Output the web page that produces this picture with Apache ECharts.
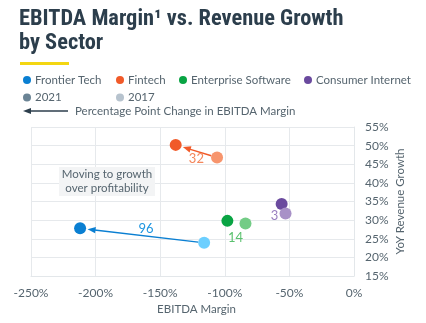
<!DOCTYPE html>
<html>
<head>
<meta charset="utf-8">
<script src="https://cdn.jsdelivr.net/npm/echarts@6/dist/echarts.min.js"></script>
<style>
  html, body { margin: 0; padding: 0; background: #ffffff; }
  #chart { width: 426px; height: 323px; }
</style>
</head>
<body>
<div id="chart"></div>
<script>
// Sector data: EBITDA margin (%) and YoY revenue growth (%) for 2017 and 2021
const sectors = ['Frontier Tech', 'Fintech', 'Enterprise Software', 'Consumer Internet'];
const years = ['2021', '2017'];
const margin2017 = [-116, -106, -84, -53];
const marginChange = [96, 32, 14, 3];          // percentage-point drop in EBITDA margin
const margin2021 = margin2017.map((m, i) => m - marginChange[i]);
const growth2017 = [23.9, 46.8, 29.1, 31.8];
const growth2021 = [27.8, 50.2, 29.8, 34.3];

// Styling
const dark = ['#0a7fd2', '#f15a29', '#09a443', '#6a4a9e'];
const light = ['#6ccfff', '#f7956d', '#73cc86', '#a891c7'];
const labelColors = ['#1d95e0', '#f4875c', '#5bc16f', '#9a80c1'];
const yearColors = ['#6b8495', '#b7c3ce'];
const labelOffsets = [[4, -7], [0, 8], [-1, 16], [-9, 7]];
const textFont = 'Lato, "Noto Sans", sans-serif';
const ink = '#2c3e4c';
const muted = '#56656f';

const chart = echarts.init(document.getElementById('chart'), null, { renderer: 'canvas' });

const scatterSeries = sectors.map((name, i) => ({
  name: name,
  type: 'scatter',
  symbolSize: 12,
  z: 3,
  itemStyle: { color: dark[i], opacity: 1 },
  data: [
    { value: [margin2021[i], growth2021[i]] },
    { value: [margin2017[i], growth2017[i]], itemStyle: { color: light[i] } }
  ]
}));

const yearSeries = years.map((name, i) => ({
  name: name,
  type: 'scatter',
  itemStyle: { color: yearColors[i], opacity: 1 },
  data: []
}));

// Arrows from 2017 to 2021 position, labelled with the margin change
const arrowSeries = {
  type: 'custom',
  z: 2,
  silent: true,
  encode: { x: [0, 2], y: [1, 3] },
  data: sectors.map((s, i) => [margin2017[i], growth2017[i], margin2021[i], growth2021[i], marginChange[i]]),
  renderItem: function (params, api) {
    const i = params.dataIndex;
    const p0 = api.coord([api.value(0), api.value(1)]);
    const p1 = api.coord([api.value(2), api.value(3)]);
    const dx = p1[0] - p0[0], dy = p1[1] - p0[1];
    const len = Math.sqrt(dx * dx + dy * dy);
    const ux = dx / len, uy = dy / len;
    const children = [];
    const startGap = 6, endGap = 7.5, head = 8, half = 3.2;
    if (len > startGap + endGap + head + 4) {
      const sx = p0[0] + ux * startGap, sy = p0[1] + uy * startGap;
      const tx = p1[0] - ux * endGap, ty = p1[1] - uy * endGap;
      const bx = tx - ux * head, by = ty - uy * head;
      children.push({
        type: 'line',
        shape: { x1: sx, y1: sy, x2: bx + ux * 1, y2: by + uy * 1 },
        style: { stroke: dark[i], lineWidth: 1.4 }
      });
      children.push({
        type: 'polygon',
        shape: { points: [[tx, ty], [bx - uy * half, by + ux * half], [bx + uy * half, by - ux * half]] },
        style: { fill: dark[i] }
      });
    }
    const mx = (p0[0] + p1[0]) / 2 + labelOffsets[i][0];
    const my = (p0[1] + p1[1]) / 2 + labelOffsets[i][1];
    children.push({
      type: 'text',
      x: mx, y: my,
      style: {
        text: String(api.value(4)),
        fill: labelColors[i],
        font: '13px ' + textFont,
        align: 'center',
        verticalAlign: 'middle'
      }
    });
    return { type: 'group', children: children };
  }
};

// One legend component per entry so each item sits at its own column
const legendCols = [23, 116, 179, 304];
const legendItem = (name, left, top) => ({
  data: [name],
  left: left,
  top: top,
  icon: 'circle',
  itemWidth: 8,
  itemHeight: 8,
  itemGap: 0,
  selectedMode: false,
  padding: 0,
  textStyle: { fontSize: 11.5, color: muted, fontFamily: textFont, padding: [0, 0, 0, -1] }
});
const legends = sectors.map((s, i) => legendItem(s, legendCols[i], 74))
  .concat(years.map((y, i) => legendItem(y, legendCols[i], 91.5)));

const option = {
  backgroundColor: '#ffffff',
  animation: false,
  title: {
    text: 'EBITDA Margin\u00b9 vs. Revenue Growth\nby Sector',
    left: 19,
    top: 7,
    padding: 0,
    textStyle: {
      fontSize: 22.4,
      fontWeight: 'bold',
      color: ink,
      lineHeight: 24,
      fontFamily: '"Liberation Sans Narrow", "Roboto Condensed", Roboto, sans-serif'
    }
  },
  legend: legends,
  grid: { left: 31, right: 72, top: 127, bottom: 47 },
  xAxis: {
    type: 'value',
    min: -250, max: 0, interval: 50,
    name: 'EBITDA Margin',
    nameLocation: 'middle',
    nameGap: 27,
    nameTextStyle: { fontSize: 11.5, color: muted, fontFamily: textFont, padding: [0, 0, 0, 8] },
    axisLine: { show: true, lineStyle: { color: '#e3e7ea' } },
    axisTick: { show: false },
    axisLabel: { formatter: '{value}%', fontSize: 12, color: muted, fontFamily: textFont, margin: 11 },
    splitLine: { show: true, lineStyle: { color: '#e6e9ec', width: 1 } }
  },
  yAxis: {
    type: 'value',
    position: 'right',
    min: 15, max: 55, interval: 5,
    name: 'YoY Revenue Growth',
    nameLocation: 'middle',
    nameRotate: 90,
    nameGap: 40,
    nameMoveOverlap: false,
    nameTextStyle: { fontSize: 11.5, color: muted, fontFamily: textFont },
    axisLine: { show: true, lineStyle: { color: '#e3e7ea' } },
    axisTick: { show: false },
    axisLabel: { formatter: '{value}%', fontSize: 12, color: muted, fontFamily: textFont, margin: 11 },
    splitLine: { show: true, lineStyle: { color: '#e6e9ec', width: 1 } }
  },
  graphic: [
    // yellow accent under the title
    { type: 'rect', left: 20, top: 62, shape: { width: 49, height: 3 }, style: { fill: '#f3d612' } },
    // legend entry for the change arrow
    { type: 'line', shape: { x1: 30, y1: 111, x2: 68, y2: 111 }, style: { stroke: ink, lineWidth: 1.3 } },
    { type: 'polygon', shape: { points: [[23, 111], [31, 108], [31, 114]] }, style: { fill: ink } },
    { type: 'text', x: 75, y: 111, style: { text: 'Percentage Point Change in EBITDA Margin', fill: muted, font: '11.5px ' + textFont, verticalAlign: 'middle' } },
    // annotation box
    { type: 'rect', shape: { x: 59, y: 167, width: 96, height: 29 }, style: { fill: '#f3f4f5' }, z: 1 },
    { type: 'text', x: 107, y: 181.5, z: 2, style: { text: 'Moving to growth\nover profitability', fill: muted, font: '11.5px ' + textFont, lineHeight: 14.5, align: 'center', verticalAlign: 'middle' } }
  ],
  series: [arrowSeries].concat(scatterSeries, yearSeries)
};

chart.setOption(option);
</script>
</body>
</html>
